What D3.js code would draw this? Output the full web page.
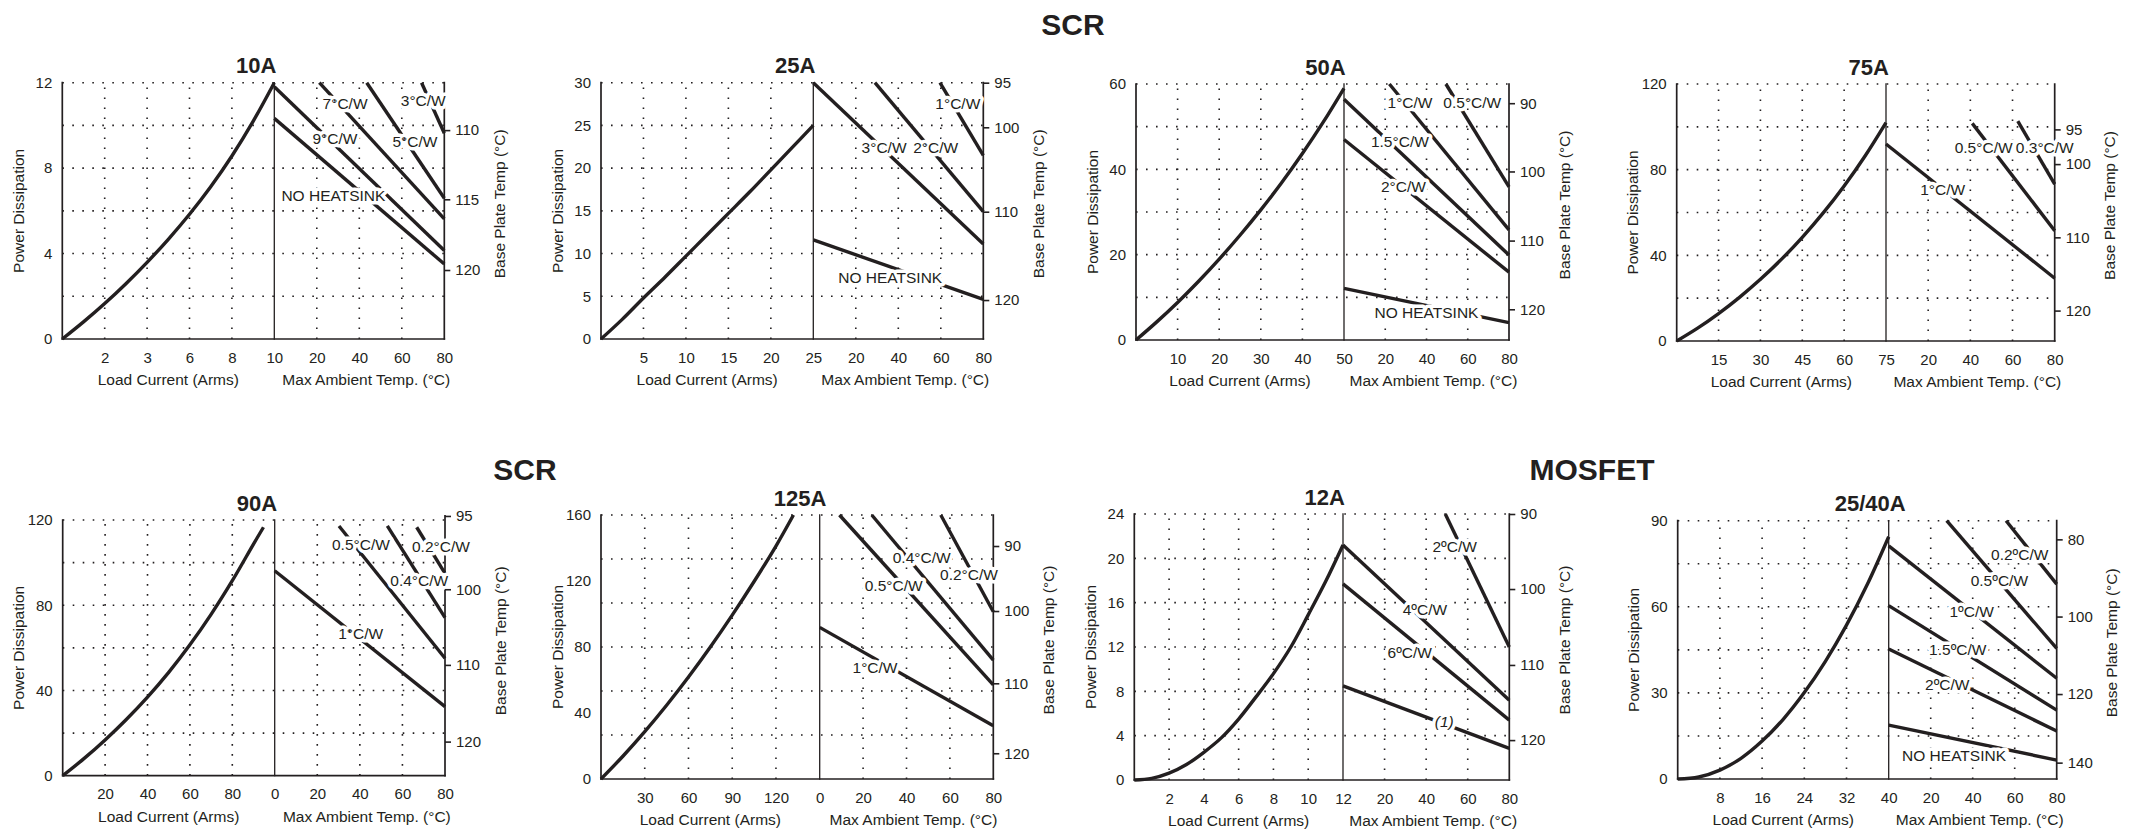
<!DOCTYPE html>
<html>
<head>
<meta charset="utf-8">
<script src="https://cdn.jsdelivr.net/npm/d3@7"></script>
<style>
  body { margin: 0; background: #fff; }
  text { font-family: "Liberation Sans", Arial, sans-serif; fill: #231f20; }
</style>
</head>
<body>
<svg id="chart" width="2134" height="830"></svg>
<script>
// ---- data (load current vs watts, then ambient temp lines) ----
const titles = ["10A", "25A", "50A", "75A", "90A", "125A", "12A", "25/40A"];
const loadMax = [10, 25, 50, 75, 100, 150, 12, 40];
const loadTicks = [[2,4,6,8,10],[5,10,15,20,25],[10,20,30,40,50],[15,30,45,60,75],
                   [20,40,60,80],[30,60,90,120],[2,4,6,8,10,12],[8,16,24,32,40]];
// the 10A sheet really prints "3" where 4 would be
const loadLabels = [["2","3","6","8","10"], null, null, null, null, null, null, null];
const tempTicks = [[20,40,60,80],[20,40,60,80],[20,40,60,80],[20,40,60,80],
                   [0,20,40,60,80],[0,20,40,60,80],[20,40,60,80],[20,40,60,80]];
const powerMax = [12, 30, 60, 120, 120, 160, 24, 90];
const powerTicks = [[0,4,8,12],[0,5,10,15,20,25,30],[0,20,40,60],[0,40,80,120],
                    [0,40,80,120],[0,40,80,120,160],[0,4,8,12,16,20,24],[0,30,60,90]];
// base plate temp tick -> the watts it lines up with on the left scale
const plateTicks = [
  [[110,9.78],[115,6.54],[120,3.23]],
  [[95,30],[100,24.78],[110,14.9],[120,4.56]],
  [[90,55.5],[100,39.5],[110,23.3],[120,7.2]],
  [[95,98.8],[100,82.6],[110,48.4],[120,14.2]],
  [[95,121.9],[100,87.5],[110,52],[120,16]],
  [[90,141.2],[100,101.8],[110,58],[120,15.6]],
  [[90,24],[100,17.23],[110,10.38],[120,3.6]],
  [[80,83.5],[100,56.6],[120,29.6],[140,5.7]]
];

const scr10Curve = [[0,0],[1,0.8],[2,1.66],[3,2.59],[4,3.59],[5,4.67],[6,5.84],[7,7.13],[8,8.57],[9,10.19],[10,12]];
const scr25Curve = [[0,0],[2.5,2.3],[5,4.8],[7.5,7.2],[10,9.7],[12.5,12.2],[15,14.7],[17.5,17.2],[20,19.8],[22.5,22.4],[25,25]];
const scr50Curve = [[0,0],[5,4.25],[10,8.8],[15,13.7],[20,18.95],[25,24.55],[30,30.5],[35,36.85],[40,43.7],[45,51.05],[50,59]];
const scr75Curve = [[0,0],[7.5,6],[15,12.8],[22.5,20.4],[30,28.8],[37.5,38.1],[45,48.4],[52.5,59.8],[60,72.4],[67.5,86.4],[75,102]];
const scr90Curve = [[0,0],[10,8],[20,16.8],[30,26.4],[40,36.9],[50,48.5],[60,61.4],[70,75.7],[80,91.5],[90,108.7],[94.7,116.6]];
const scr125Curve = [[0,0],[15,13.8],[30,28.7],[45,44.7],[60,61.8],[75,80],[90,99.3],[105,119.7],[120,141.2],[132,160]];
const mos12Curve = [[0,0],[1,0.15],[2,0.62],[3,1.4],[4,2.5],[5,3.8],[6,5.5],[7,7.5],[8,9.6],[9,12],[10,14.9],[11,17.9],[12,21.2]];
const mos40Curve = [[0,0],[4,0.7],[8,3.1],[12,7.2],[16,13.2],[20,20.8],[24,30.1],[28,41],[32,53.6],[36,68],[40,84.4]];

// ambient lines: [label, start (°C, W), end (°C, W), label centre (°C, W)]
const scr10Lines = [
  ["9°C/W", [0,11.81], [80,4.14], [28.5,9.39]],
  ["NO HEATSINK", [0,10.33], [80,3.51], [27.8,6.71]],
  ["7°C/W", [21.2,12], [80,5.62], [33.3,11.03]],
  ["5°C/W", [43.5,12], [80,6.59], [66.2,9.27]],
  ["3°C/W", [69.3,12], [80,9.63], [70.1,11.19]]
];
const scr25Lines = [
  ["3°C/W", [0,30], [80,11.12], [33.3,22.4]],
  ["2°C/W", [29,30], [80,14.9], [57.6,22.4]],
  ["1°C/W", [59.6,30], [80,21.5], [68,27.6]],
  ["NO HEATSINK", [0,11.6], [80,4.64], [36.2,7.2]]
];
const scr50Lines = [
  ["1.5°C/W", [0,56.4], [80,19.9], [27.1,46.5]],
  ["2°C/W", [0,47], [80,15.9], [28.8,35.9]],
  ["1°C/W", [22,60], [80,25.8], [32,55.6]],
  ["0.5°C/W", [49.4,60], [80,35.9], [62.2,55.6]],
  ["NO HEATSINK", [0,12.1], [80,4.06], [40,6.4]]
];
const scr75Lines = [
  ["1°C/W", [0,92], [80,29.3], [26.9,71]],
  ["0.5°C/W", [40.9,101.6], [80,51.5], [46.3,90.3]],
  ["0.3°C/W", [62.5,102.7], [80,73.2], [75.3,90.3]]
];
const scr90Lines = [
  ["1°C/W", [0,96.2], [80,32.4], [40.4,66.8]],
  ["0.5°C/W", [30.2,117.2], [80,55.1], [40.5,108.6]],
  ["0.4°C/W", [52.9,117.2], [80,74.2], [67.9,91.5]],
  ["0.2°C/W", [66.7,116.6], [80,95], [78.1,107.8]]
];
const scr125Lines = [
  ["1°C/W", [0,91.9], [80,32.3], [25.5,67.5]],
  ["0.5°C/W", [9.1,160], [80,57], [34.1,117.2]],
  ["0.4°C/W", [24,160], [80,72.1], [47,134.1]],
  ["0.2°C/W", [55.8,160], [80,101.4], [68.8,124]]
];
const mos12Lines = [
  ["4ºC/W", [0,21.2], [80,7.2], [39.4,15.4]],
  ["6ºC/W", [0,17.7], [80,5.4], [32.1,11.55]],
  ["2ºC/W", [49.2,24], [80,12], [53.7,21.05]],
  ["(1)", [0,8.5], [80,2.86], [48.7,5.26]]
];
const mos40Lines = [
  ["1ºC/W", [0,81.2], [80,35.1], [39.5,58.3]],
  ["1.5ºC/W", [0,60.4], [80,24], [32.9,45.3]],
  ["2ºC/W", [0,45.3], [80,16.7], [27.9,33]],
  ["NO HEATSINK", [0,18.8], [80,6.6], [31.1,8.2]],
  ["0.5ºC/W", [27.6,90], [80,45.5], [52.7,69.1]],
  ["0.2ºC/W", [55.9,90], [80,67.9], [62.4,78.3]]
];

const curves = [scr10Curve, scr25Curve, scr50Curve, scr75Curve, scr90Curve, scr125Curve, mos12Curve, mos40Curve];
const ambientLines = [scr10Lines, scr25Lines, scr50Lines, scr75Lines, scr90Lines, scr125Lines, mos12Lines, mos40Lines];

const groupTitles = ["SCR", "SCR", "MOSFET"];

// ---- layout: [left, divider, right, top, bottom] of each plot box ----
const boxes = [
  [62.3, 274.3, 444.3, 82.7, 339],
  [601, 813.3, 983.3, 82.7, 339],
  [1136, 1344, 1509, 84, 340],
  [1676.7, 1886, 2054.7, 84, 341],
  [62.7, 274.7, 445, 520, 775.7],
  [601, 819.7, 993.3, 515, 779],
  [1134.3, 1343, 1509.3, 514, 780],
  [1677.7, 1888.7, 2056.7, 520.7, 779]
];
const groupPos = [[1073, 35], [525, 480], [1592, 480]];

const ink = "#231f20";
const font = "\"Liberation Sans\", Arial, sans-serif";
const svg = d3.select("#chart");

groupTitles.forEach((t, i) => {
  svg.append("text")
    .attr("x", groupPos[i][0]).attr("y", groupPos[i][1])
    .attr("text-anchor", "middle")
    .attr("font-size", 30).attr("font-weight", "bold")
    .text(t);
});

titles.forEach((title, i) => {
  const [xl, xd, xr, yt, yb] = boxes[i];
  const g = svg.append("g");

  const xLoad = d3.scaleLinear().domain([0, loadMax[i]]).range([xl, xd]);
  const xTemp = d3.scaleLinear().domain([0, 80]).range([xd, xr]);
  const y = d3.scaleLinear().domain([0, powerMax[i]]).range([yb, yt]);

  // dotted grid, six rows in every panel
  const rows = d3.range(1, 7).map(k => powerMax[i] * k / 6);
  g.selectAll(null).data(rows).join("line")
    .attr("x1", xl).attr("x2", xr)
    .attr("y1", d => y(d)).attr("y2", d => y(d))
    .attr("stroke", ink).attr("stroke-width", 1.6)
    .attr("stroke-dasharray", "1.6,8.4");
  const cols = loadTicks[i].filter(v => v < loadMax[i]).map(v => xLoad(v))
    .concat(tempTicks[i].filter(v => v > 0 && v < 80).map(v => xTemp(v)));
  g.selectAll(null).data(cols).join("line")
    .attr("x1", d => d).attr("x2", d => d)
    .attr("y1", yb).attr("y2", yt)
    .attr("stroke", ink).attr("stroke-width", 1.6)
    .attr("stroke-dasharray", "1.6,8.4");

  // load curve
  const line = d3.line().x(d => xLoad(d[0])).y(d => y(d[1])).curve(d3.curveCatmullRom.alpha(0.5));
  g.append("path")
    .attr("d", line(curves[i]))
    .attr("fill", "none").attr("stroke", ink)
    .attr("stroke-width", 3.4);

  // ambient temperature lines
  g.selectAll(null).data(ambientLines[i]).join("line")
    .attr("x1", d => xTemp(d[1][0])).attr("y1", d => y(d[1][1]))
    .attr("x2", d => xTemp(d[2][0])).attr("y2", d => y(d[2][1]))
    .attr("stroke", ink).attr("stroke-width", 3.4);

  // frame
  const plateScale = d3.scaleLinear()
    .domain(plateTicks[i].map(d => d[0]))
    .range(plateTicks[i].map(d => y(d[1])));
  const rightTop = Math.min(yt, d3.min(plateTicks[i], d => y(d[1])));
  const frame = [[xl, yt, xl, yb], [xl, yb, xr, yb], [xd, yt, xd, yb], [xr, rightTop, xr, yb]];
  g.selectAll(null).data(frame).join("line")
    .attr("x1", d => d[0]).attr("y1", d => d[1])
    .attr("x2", d => d[2]).attr("y2", d => d[3])
    .attr("stroke", ink)
    .attr("stroke-width", (d, k) => k === 2 ? 1.3 : 1.7)
    .attr("stroke-linecap", "square");

  // line labels, knocked out of the lines behind them
  g.selectAll(null).data(ambientLines[i]).join("text")
    .attr("x", d => xTemp(d[3][0])).attr("y", d => y(d[3][1]))
    .attr("dy", "0.36em")
    .attr("text-anchor", "middle")
    .attr("font-size", 15.5)
    .attr("font-style", d => d[0] === "(1)" ? "italic" : null)
    .attr("stroke", "#fff").attr("stroke-width", 7)
    .attr("stroke-linejoin", "round")
    .attr("paint-order", "stroke")
    .text(d => d[0]);

  // axes
  const styleAxis = a => {
    a.select(".domain").remove();
    a.attr("font-size", 15).attr("font-family", font);
    a.selectAll(".tick line").attr("stroke", ink).attr("stroke-width", 1.6);
    a.selectAll(".tick text").attr("fill", ink);
  };
  g.append("g").attr("transform", `translate(${xl},0)`)
    .call(d3.axisLeft(y).tickValues(powerTicks[i]).tickSize(0).tickPadding(10))
    .call(styleAxis);
  g.append("g").attr("transform", `translate(0,${yb})`)
    .call(d3.axisBottom(xLoad).tickValues(loadTicks[i]).tickSize(0).tickPadding(13)
      .tickFormat((d, k) => loadLabels[i] ? loadLabels[i][k] : d))
    .call(styleAxis);
  g.append("g").attr("transform", `translate(0,${yb})`)
    .call(d3.axisBottom(xTemp).tickValues(tempTicks[i]).tickSize(0).tickPadding(13))
    .call(styleAxis);
  g.append("g").attr("transform", `translate(${xr},0)`)
    .call(d3.axisRight(plateScale).tickValues(plateTicks[i].map(d => d[0])).tickSize(6).tickPadding(5))
    .call(styleAxis);

  // titles
  g.append("text")
    .attr("x", (xl + xr) / 2 + 3).attr("y", yt - 9.5)
    .attr("text-anchor", "middle")
    .attr("font-size", 22).attr("font-weight", "bold")
    .text(title);
  g.append("text")
    .attr("x", (xl + xd) / 2).attr("y", yb + 46)
    .attr("text-anchor", "middle").attr("font-size", 15.5)
    .text("Load Current (Arms)");
  g.append("text")
    .attr("x", (xd + xr) / 2 + 7).attr("y", yb + 46)
    .attr("text-anchor", "middle").attr("font-size", 15.5)
    .text("Max Ambient Temp. (°C)");
  g.append("text")
    .attr("transform", `translate(${xl - 44},${(yt + yb) / 2}) rotate(-90)`)
    .attr("dy", "0.36em")
    .attr("text-anchor", "middle").attr("font-size", 15.5)
    .text("Power Dissipation");
  g.append("text")
    .attr("transform", `translate(${xr + 55},${(yt + yb) / 2 - 7}) rotate(-90)`)
    .attr("dy", "0.36em")
    .attr("text-anchor", "middle").attr("font-size", 15.5)
    .text("Base Plate Temp (°C)");
});
</script>
</body>
</html>
